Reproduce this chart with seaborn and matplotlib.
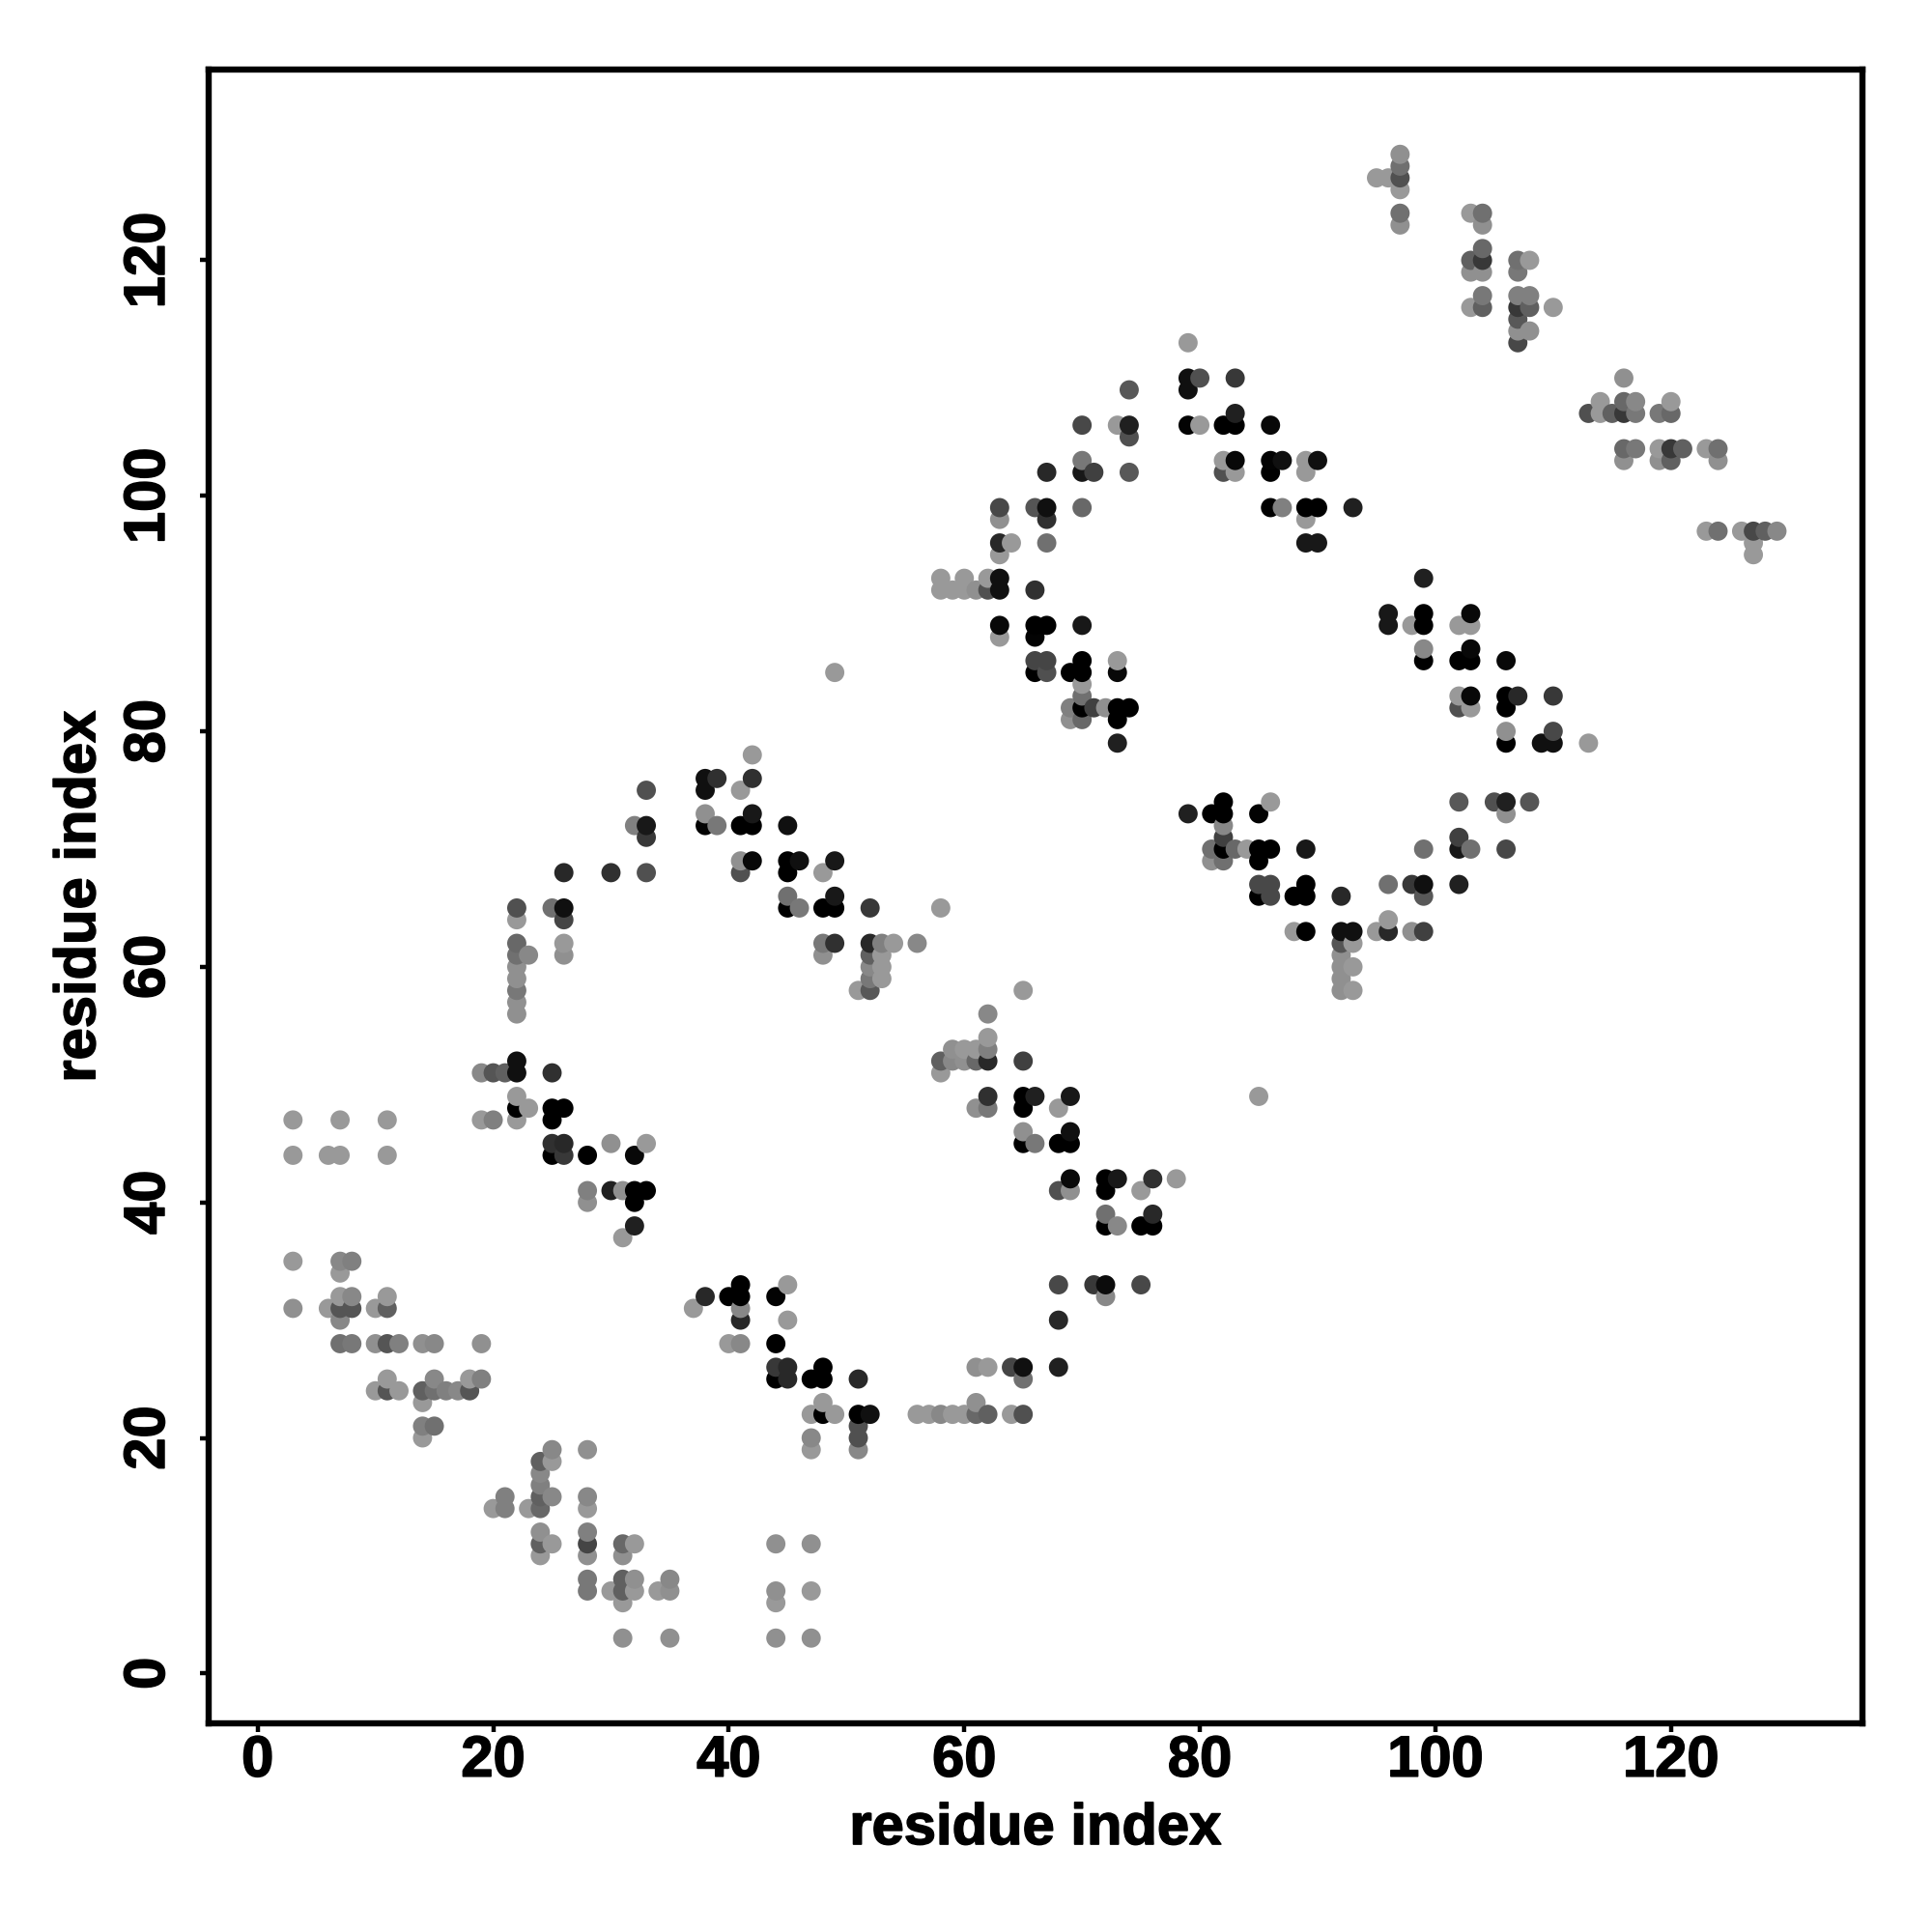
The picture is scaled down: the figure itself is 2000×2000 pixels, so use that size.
import matplotlib
matplotlib.use("Agg")
import matplotlib.pyplot as plt
import matplotlib.patheffects as pe
import pandas as pd
import seaborn as sns

row_y = [129,128,127,126,124,123,121,120,119,117,116,115,114,113,110,109,108,107,106,105,104,103,102,99,98,97,96,95,93,92,
         90,89,88,87,86,85,84,83,82,81,80,79,78,76,75,74,73,72,71,70,69,68,67,66,65,64,63,62,61,60,59,58,57,56,54,53,52,51,
         49,48,47,46,45,44,42,41,40,39,38,37,35,34,33,32,31,30,28,26,25,24,23,22,21,20,19,18,17,16,15,14,12,11,10,8,7,6,3]

row_x = [
 [97],[97],[95,96,97],[97],[97,103,104],[97,104],[104],[103,104,107,108],[103,104,107],[104,107,108],
 [103,104,107,108,110],[107],[107,108],[79,107],[79,80,83,116],[74,79],[114,116,117,120],
 [83,113,114,115,116,117,119,120],[70,73,74,79,80,82,83,86],[74],[116,117,119,120,121,123,124],
 [70,82,83,86,87,89,90,116,119,120,124],[67,70,71,74,82,83,86,89],[63,66,67,70,86,87,89,90,93],[63,67,89],
 [123,124,126,127,128,129],[63,64,67,89,90,127],[63,127],[58,60,62,63,99],[58,59,60,61,62,63,66],
 [96,99,103],[63,66,67,70,96,98,99,102,103],[63,66],[99,103],[66,67,70,73,99,102,103,106],[49,66,67,69,70,73],[70],
 [70,102,103,106,107,110],[69,70,71,72,73,74,102,103,106],[69,70,73],[106,110],[73,106,109,110,113],[42],[38,39,42],
 [33,38,41],[82,86,102,105,106,108],[38,42,79,81,82,85,106],[32,33,38,39,41,42,45,82],[33,82,102],
 [81,82,83,84,85,86,89,99,102,103,106],[41,42,45,46,49,81,82,85],[26,30,33,41,45,48],[85,86,89,96,98,99,102],
 [45,49,85,86,88,89,92,99],[22,25,26,45,46,48,49,52,58],[22,26,96],[88,89,92,93,95,96,98,99],
 [22,26,48,49,52,53,54,56,92,93],[22,23,26,48,52,53,92],[22,52,53,92,93],[22,52,53,92],[22,51,52,65,92,93],[22],[22,62],
 [62],[59,60,61,62],[22,58,59,60,61,62,65],[19,20,21,22,25,58],
 [22,62,65,66,69,85],[22,23,25,26,61,62,65,68],[3,7,11,19,20,22,25],[65,69],[25,26,30,33,65,66,68,69],
 [3,6,7,11,25,26,28,32],[69,72,73,76,78],[28,30,31,32,33,68,69,72,75],[28,32],[72,76],[32,72,73,75,76],[31],
 [3,7,8],[7],[41,45,68,71,72,75],[7,8,11,38,40,41,44,72],[3,6,7,8,10,11,37,41],[7,41,45,68],
 [7,8,10,11,12,14,15,19,40,41,44],[44,45,48,61,62,64,65,68],[11,15,18,19,44,45,47,48,51,65],
 [10,11,12,14,15,16,17,18],[14,48,61],[47,48,49,51,52,56,57,58,59,60,61,62,64,65],[14,15,51],[14,47,51],
 [25,28,47,51],[24,25],[24],[24],[21,24,25,28],[20,21,23,24,28],[24,28],[24,25,28,31,32,44,47],[24,28,31],
 [28,31,32,35],[28,30,31,32,34,35,44,47],[31,44],[31,35,44,47],
]

row_shade = [
 [0x90],[0x70],[0x99,0x99,0x50],[0x99],[0x70,0x99,0x70],[0x90,0x90],[0x68],[0x60,0x38,0x70,0x99],[0x90,0x90,0x78],[0x78,0x80,0x80],
 [0x99,0x60,0x38,0x60,0x99],[0x58],[0x90,0x90],[0x99,0x48],[0x10,0x50,0x38,0x90],[0x58,0x10],[0x99,0x68,0x88,0x99],
 [0x20,0x50,0x99,0x60,0x38,0x78,0x78,0x68],[0x48,0x99,0x20,0x03,0x99,0x00,0x00,0x08],[0x50],[0x68,0x78,0x99,0x38,0x60,0x99,0x70],
 [0x78,0x99,0x08,0x03,0x10,0x99,0x10,0x90,0x90,0x60,0x90],[0x28,0x18,0x40,0x58,0x50,0x99,0x00,0x99],[0x48,0x55,0x10,0x68,0x00,0x80,0x00,0x00,0x20],[0x90,0x30,0x99],
 [0x99,0x70,0x99,0x48,0x60,0x88],[0x28,0x99,0x70,0x18,0x18,0x99],[0x99,0x99],[0x99,0x99,0x99,0x10,0x20],[0x99,0x99,0x99,0x90,0x50,0x10,0x30],
 [0x18,0x00,0x08],[0x08,0x00,0x00,0x18,0x18,0x99,0x00,0x99,0x99],[0x99,0x03],[0x88,0x08],[0x45,0x45,0x00,0x99,0x00,0x00,0x00,0x08],[0x99,0x00,0x50,0x00,0x00,0x08],[0x99],
 [0x70,0x99,0x08,0x00,0x28,0x38],[0x80,0x00,0x40,0x90,0x00,0x00,0x50,0x99,0x00],[0x90,0x68,0x00],[0x90,0x48],[0x20,0x00,0x10,0x10,0x99],[0x99],[0x10,0x30,0x30],
 [0x50,0x10,0x99],[0x00,0x99,0x58,0x50,0x20,0x55],[0x90,0x18,0x20,0x00,0x00,0x03,0x90],[0x80,0x18,0x03,0x78,0x00,0x00,0x10,0x88],[0x38,0x40,0x40],
 [0x70,0x00,0x68,0x99,0x00,0x00,0x18,0x70,0x18,0x70,0x48],[0x90,0x08,0x00,0x10,0x18,0x90,0x70,0x00],[0x28,0x30,0x50,0x50,0x00,0x99],[0x48,0x48,0x00,0x70,0x38,0x10,0x20],
 [0x70,0x18,0x00,0x48,0x00,0x00,0x28,0x58],[0x50,0x70,0x10,0x00,0x78,0x00,0x00,0x38,0x99],[0x99,0x45,0x99],[0x99,0x00,0x10,0x10,0x99,0x28,0x90,0x40],
 [0x68,0x99,0x78,0x30,0x28,0x80,0x99,0x88,0x55,0x99],[0x70,0x88,0x90,0x90,0x60,0x99,0x90],[0x90,0x88,0x99,0x90,0x99],[0x90,0x78,0x99,0x90],[0x78,0x99,0x58,0x99,0x90,0x99],[0x90],[0x90,0x88],
 [0x99],[0x90,0x99,0x99,0x80],[0x10,0x60,0x88,0x90,0x68,0x28,0x40],[0x88,0x55,0x60,0x10,0x30,0x99],
 [0x99,0x30,0x00,0x20,0x18,0x99],[0x00,0x99,0x00,0x00,0x90,0x78,0x00,0x99],[0x99,0x99,0x99,0x99,0x80,0x99,0x00],[0x90,0x10],[0x30,0x28,0x90,0x99,0x00,0x78,0x00,0x00],
 [0x99,0x99,0x99,0x99,0x00,0x38,0x00,0x08],[0x0a,0x00,0x18,0x30,0x99],[0x80,0x20,0x90,0x00,0x00,0x50,0x90,0x00,0x99],[0x90,0x00],[0x70,0x28],[0x20,0x00,0x88,0x00,0x00],[0x99],
 [0x99,0x88,0x80],[0x99],[0x00,0x99,0x48,0x38,0x0c,0x48],[0x99,0x88,0x99,0x28,0x00,0x00,0x03,0x88],[0x90,0x99,0x55,0x55,0x99,0x60,0x99,0x88],[0x88,0x28,0x99,0x28],
 [0x70,0x78,0x90,0x55,0x80,0x90,0x88,0x90,0x99,0x88,0x00],[0x38,0x28,0x00,0x90,0x99,0x45,0x10,0x20],[0x99,0x88,0x99,0x80,0x00,0x28,0x00,0x00,0x28,0x70],
 [0x99,0x55,0x99,0x60,0x70,0x80,0x88,0x55],[0x99,0x99,0x90],[0x99,0x00,0x99,0x00,0x10,0x99,0x99,0x88,0x99,0x99,0x68,0x60,0x99,0x50],[0x80,0x70,0x50],[0x99,0x88,0x50],
 [0x88,0x90,0x99,0x88],[0x60,0x99],[0x88],[0x80],[0x80,0x60,0x88,0x88],[0x99,0x80,0x99,0x68,0x99],[0x90,0x80],[0x60,0x99,0x45,0x68,0x99,0x90,0x90],[0x99,0x90,0x90],
 [0x78,0x60,0x90,0x88],[0x78,0x99,0x60,0x99,0x99,0x90,0x90,0x99],[0x99,0x99],[0x90,0x90,0x90,0x90],
]

x_ticks = [0, 20, 40, 60, 80, 100, 120]
y_ticks = [0, 20, 40, 60, 80, 100, 120]
axis_label = "residue index"

assert len(row_y) == len(row_x) == len(row_shade), (len(row_y), len(row_x), len(row_shade))
for yy, a, b in zip(row_y, row_x, row_shade):
    assert len(a) == len(b), yy

df = pd.DataFrame(
    [(xv, yy, sv) for yy, xs, ss in zip(row_y, row_x, row_shade) for xv, sv in zip(xs, ss)],
    columns=["i", "j", "shade"],
).sort_values(["i", "j"], kind="stable")

palette = {s: "#{0:02x}{0:02x}{0:02x}".format(s) for s in df["shade"].unique()}

sns.set_theme(style="white")
plt.rcParams["font.family"] = ["Liberation Sans", "DejaVu Sans"]
plt.rcParams["font.weight"] = "bold"

fig = plt.figure(figsize=(20, 20), dpi=100, facecolor="white")
ax = fig.add_axes([216 / 2000, 216 / 2000, 1712 / 2000, 1712 / 2000])
sns.scatterplot(data=df, x="i", y="j", hue="shade", palette=palette, s=205,
                linewidth=0, legend=False, ax=ax, clip_on=True)

ax.set_xlim(-4.16, 136.26)
ax.set_ylim(-4.24, 136.2)
ax.set_xticks(x_ticks)
ax.set_yticks(y_ticks)
ax.set_xticklabels([str(t) for t in x_ticks], fontsize=43, fontweight="bold", color="black")
ax.set_yticklabels([str(t) for t in y_ticks], fontsize=43, fontweight="bold", color="black",
                   rotation=90, va="center")
ax.tick_params(axis="x", bottom=True, direction="out", length=6.5, width=3.2, pad=2, color="black")
ax.tick_params(axis="y", left=True, direction="out", length=6.5, width=3.2, pad=18, color="black")
ax.set_xlabel(axis_label, fontsize=43, fontweight="bold", color="black", labelpad=11)
ax.set_ylabel(axis_label, fontsize=43, fontweight="bold", color="black", labelpad=12)
heavier = [pe.withStroke(linewidth=1.1, foreground="black")]
for label in ax.get_xticklabels() + ax.get_yticklabels() + [ax.xaxis.label, ax.yaxis.label]:
    label.set_path_effects(heavier)
for side in ax.spines.values():
    side.set_linewidth(4.6)
    side.set_color("black")
ax.grid(False)

fig.savefig("out.png", dpi=100, facecolor="white")
